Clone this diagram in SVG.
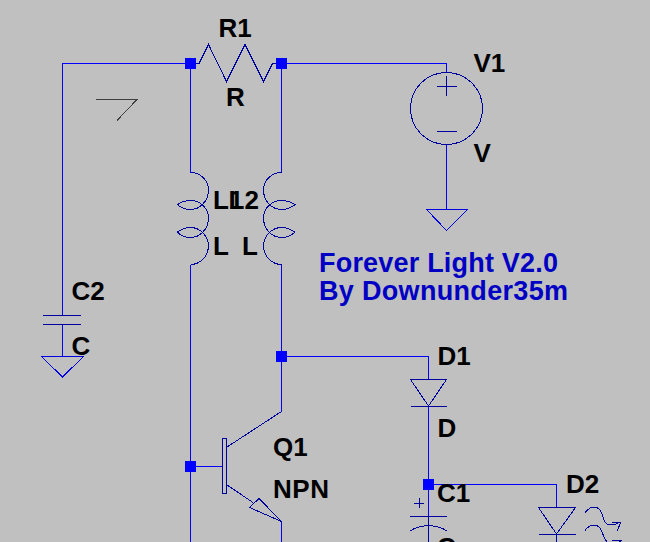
<svg xmlns="http://www.w3.org/2000/svg" width="650" height="542" viewBox="0 0 650 542">
<style>
.w{fill:none;stroke:#0000ff;stroke-width:1;shape-rendering:crispEdges}
.s{fill:none;stroke:#00009c;stroke-width:1;shape-rendering:crispEdges}
.g{fill:none;stroke:#0000e0;stroke-width:1;shape-rendering:crispEdges}
.j{fill:#0000ff}
text{font-family:"Liberation Sans",Arial,sans-serif;font-weight:bold;font-size:26px;fill:#000}
.n{fill:#0000c4;font-size:27px}
</style>
<rect width="650" height="542" fill="#c0c0c0"/>
<g id="wires">
<path class="w" d="M190.500 63.500H62.500V315.500M62.500 324.500V356.500M190.500 63.500V172.500M190.500 264.500V542M281.500 63.500V172.500M281.500 264.500V411.500M281.500 63.500H446.500V72.500M446.500 144.500V209.500M281.500 356.500H428.500V379.500M428.500 406.500V516.500M428.500 484.500H556.500V507.500M190.500 466.500H222.500M281.500 521.500V542"/>
</g>
<g id="J1"><rect class="j" x="185" y="58" width="11" height="11"/></g>
<g id="J2"><rect class="j" x="276" y="58" width="11" height="11"/></g>
<g id="J3"><rect class="j" x="276" y="351" width="11" height="11"/></g>
<g id="J4"><rect class="j" x="185" y="461" width="11" height="11"/></g>
<g id="J5"><rect class="j" x="423" y="479" width="11" height="11"/></g>
<g id="R1">
<path class="s" d="M196 63.500H199L208.500 44.500L226.500 81.500L245 44.500L263.500 81.500L272.500 63.500H276"/>
<text x="218.500" y="37">R1</text><text x="226" y="105.500">R</text>
</g>
<g id="flag"><path d="M96 99.500H137L117 120.500" fill="none" stroke="#404040" stroke-width="1" shape-rendering="crispEdges"/></g>
<g id="L1">
<path class="s" d="M190.500 172.500C200 172.500 208.500 180 208.500 190C208.500 201 200 209.500 190.500 209.500C185 209.500 180 207 177.500 204.700C181 202 186 200.500 190.500 200.500C200 200.500 208.500 208 208.500 218C208.500 229 200 237.500 190.500 237.500C185 237.500 180 235 177.500 232C181 229.500 186 227.500 190.500 227.500C200 227.500 208.500 236 208.500 246C208.500 256 200 264.500 190.500 264.500"/>
<text x="213" y="209">L1</text><text x="213" y="255">L</text>
</g>
<g id="L2">
<path class="s" d="M281.500 172.500C272 172.500 263.500 180 263.500 190C263.500 201 272 209.500 281.500 209.500C287 209.500 292 207 295 204.700C291 202 286 200.500 281.500 200.500C272 200.500 263.500 208 263.500 218C263.500 229 272 237.500 281.500 237.500C287 237.500 292 235 295 232C291 229.500 286 227.500 281.500 227.500C272 227.500 263.500 236 263.500 246C263.500 256 272 264.500 281.500 264.500"/>
<text x="228.500" y="209">L2</text><text x="242" y="255">L</text>
</g>
<g id="V1">
<circle class="s" cx="446.500" cy="108.500" r="36"/>
<path class="s" d="M437 86.500H457M446.500 76V96M437 131.500H457"/>
<text x="473.500" y="71.500">V1</text><text x="473.500" y="162">V</text>
</g>
<g id="GND1"><path class="g" d="M426.500 209.500H467.500L446.500 230.500Z"/></g>
<g id="C2">
<path class="s" d="M43 315.500H81M43 324.500H81"/>
<text x="71.500" y="300">C2</text><text x="71.500" y="355">C</text>
</g>
<g id="GND2"><path class="g" d="M41.500 356.500H83.500L62.500 377Z"/></g>
<g id="note">
<text class="n" x="319" y="272" textLength="239" lengthAdjust="spacing">Forever Light V2.0</text>
<text class="n" x="319" y="300" textLength="249" lengthAdjust="spacing">By Downunder35m</text>
</g>
<g id="D1">
<path class="s" d="M410.500 379.500H446.500L428.500 406ZM410.500 406.500H446.500"/>
<text x="437.500" y="365">D1</text><text x="437.500" y="437">D</text>
</g>
<g id="C1">
<path class="s" d="M410 516.500H447M410 531C420 524 437 524 447 531M428.500 516.500V542M414 503.500H424M419.500 498V508"/>
<text x="437" y="501.500">C1</text><text x="437" y="556">C</text>
</g>
<g id="D2">
<path class="s" d="M538.500 507.500H575.500L556.500 534ZM538.500 534.500H575.500M556.500 534.500V542"/>
<path class="s" d="M585 512.500C589 507 596 505 600 510C604 515 602 525 611 525C615 525 618 523 620.500 522M612 522H621L617 531M585 530.500C589 525 596 523 600 528C603 532 603 538 607 542M612 540.500H621L619.500 542"/>
<text x="566" y="493">D2</text>
</g>
<g id="Q1">
<rect class="s" x="222.500" y="438.500" width="4" height="55"/>
<path class="s" d="M227 447L281.500 411.500M227 485L253 502.500M281.500 521.500L249.500 507.500L259 498.500Z"/>
<text x="273" y="456">Q1</text><text x="273" y="497.500" textLength="56" lengthAdjust="spacing">NPN</text>
</g>
</svg>
